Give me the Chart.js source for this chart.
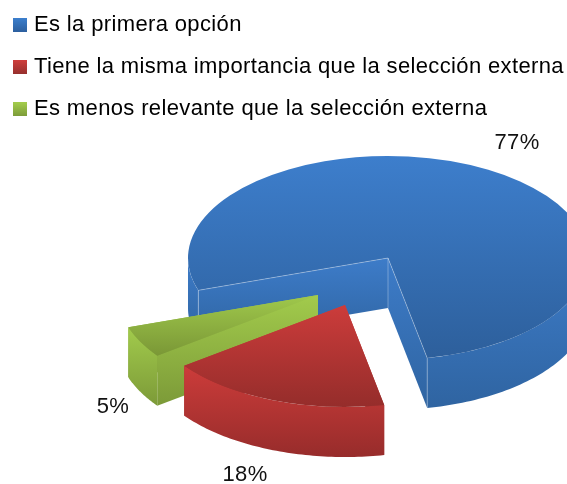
<!DOCTYPE html>
<html><head><meta charset="utf-8">
<style>html,body{margin:0;padding:0;background:#fff}canvas{display:block}</style>
<script src="https://cdn.jsdelivr.net/npm/chart.js@4"></script>
</head><body>
<canvas id="c" width="567" height="484"></canvas>
<script>
const categories = ["Es la primera opción","Tiene la misma importancia que la selección externa","Es menos relevante que la selección externa"];
const values = [77,18,5];
const baseColors = ["#3a78c4","#bf3a38","#93b945"];
const FONT = '"Liberation Sans", Arial, sans-serif';

// Pseudo-3D look: ellipse, depth and per-slice explode vector
const look = {
  cx:388, cy:258, rx:200, ry:102, depth:50,
  shift:[[0,0],[-43,47],[-70,37]],
  top:[["#3d7ecc","#2d5f9b",157,360],["#cc3c3b","#962d2b",305,405],["#a0c94c","#7a9736",294,356]],
  wall:[["#3d7cc9","#2f64a1"],["#cc3c3a","#972c2b"],["#a2cb4c","#7c9a38"]],
  order:[0,2,1],
  labelPos:[[517,143],[245,475],[113,407]],
  legendY:[[18,32],[60,74],[103,117]],
  legendCol:[["#3c7fcd","#2c5f9e"],["#cf3e3c","#96302e"],["#a2cb4c","#7a9838"]]
};
function vGrad(ctx,y0,y1,a,b){const g=ctx.createLinearGradient(0,y0,0,y1);g.addColorStop(0,a);g.addColorStop(1,b);return g;}

const pie3d = {
  id:'pie3d',
  beforeUpdate(chart){ chart.ctx.letterSpacing='0.36px'; },
  beforeDraw(chart){ chart.ctx.letterSpacing='0.36px'; },
  beforeDatasetDraw(chart,args){
    const ctx=chart.ctx, L=look, arcs=chart.getDatasetMeta(args.index).data;
    for(const i of L.order){
      const arc=arcs[i], [dx,dy]=L.shift[i];
      const ox=L.cx+dx, oy=L.cy+dy;
      const P=(a,d=0)=>[ox+L.rx*Math.cos(a), oy+L.ry*Math.sin(a)+d];
      const s=arc.startAngle, e=arc.endAngle;
      const fillPoly=(pts,cols)=>{
        const ys=pts.map(p=>p[1]);
        ctx.fillStyle=vGrad(ctx,Math.min(...ys),Math.max(...ys),cols[0],cols[1]);
        ctx.beginPath();pts.forEach((p,k)=>k?ctx.lineTo(p[0],p[1]):ctx.moveTo(p[0],p[1]));
        ctx.closePath();ctx.fill();
      };
      // straight cut walls
      for(const a of [e,s]){
        const p=P(a);
        fillPoly([[ox,oy],p,[p[0],p[1]+L.depth],[ox,oy+L.depth]],L.wall[i]);
      }
      // curved rim: only the part on the front half
      for(let k=-1;k<=2;k++){
        const lo=Math.max(s,2*Math.PI*k), hi=Math.min(e,2*Math.PI*k+Math.PI);
        if(hi<=lo)continue;
        const pts=[];const n=60;
        for(let j=0;j<=n;j++)pts.push(P(lo+(hi-lo)*j/n));
        for(let j=n;j>=0;j--)pts.push(P(lo+(hi-lo)*j/n,L.depth));
        fillPoly(pts,L.wall[i]);
      }
      // top face: the library's own arc, flattened
      const sx=L.rx/arc.outerRadius, sy=L.ry/arc.outerRadius;
      const t=L.top[i];
      const toLocal=y=>arc.y+(y-oy)/sy;
      const saved=arc.options;
      arc.options=Object.assign({},saved,{backgroundColor:vGrad(ctx,toLocal(t[2]),toLocal(t[3]),t[0],t[1])});
      ctx.save();
      ctx.translate(ox,oy);ctx.scale(sx,sy);ctx.translate(-arc.x,-arc.y);
      arc.draw(ctx);
      ctx.restore();
      arc.options=saved;
      // pale hairlines on the large slice's cut edges
      if(i===0){
        ctx.strokeStyle='rgba(255,255,255,0.3)';ctx.lineWidth=1;
        const a=P(s),b=P(e);
        ctx.beginPath();
        ctx.moveTo(a[0],a[1]);ctx.lineTo(ox,oy);ctx.lineTo(b[0],b[1]);ctx.lineTo(b[0],b[1]+L.depth);
        ctx.moveTo(ox,oy);ctx.lineTo(ox,oy+L.depth);
        ctx.moveTo(a[0],a[1]);ctx.lineTo(a[0],a[1]+L.depth);
        ctx.stroke();
      }
    }
    return false;
  },
  afterDraw(chart){
    const ctx=chart.ctx;
    ctx.save();
    ctx.font='22px '+FONT;ctx.fillStyle='#111';ctx.textAlign='center';ctx.textBaseline='middle';
    values.forEach((v,i)=>ctx.fillText(v+'%',look.labelPos[i][0],look.labelPos[i][1]));
    ctx.restore();
  }
};

new Chart(document.getElementById('c'),{
  type:'pie',
  data:{labels:categories,datasets:[{data:values,backgroundColor:baseColors,borderWidth:0}]},
  plugins:[pie3d],
  options:{
    responsive:false,animation:false,rotation:251.5,
    layout:{padding:{left:-3,top:-6}},
    plugins:{
      tooltip:{enabled:false},
      legend:{
        position:'top',align:'start',
        labels:{
          color:'#111',font:{family:FONT,size:22},padding:20,boxWidth:6,boxHeight:6,
          generateLabels(chart){
            return categories.map((text,i)=>{
              const g=vGrad(chart.ctx,look.legendY[i][0],look.legendY[i][1],look.legendCol[i][0],look.legendCol[i][1]);
              return {text,fillStyle:g,strokeStyle:g,lineWidth:8,index:i,hidden:false};
            });
          }
        }
      }
    }
  }
});
</script>
</body></html>
